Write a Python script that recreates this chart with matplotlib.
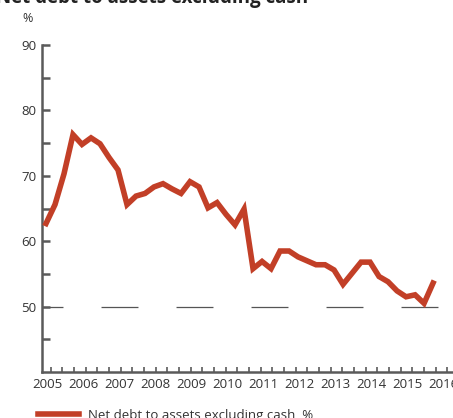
import matplotlib
matplotlib.use("Agg")
import matplotlib.pyplot as plt
import numpy as np

# quarterly observations, 2005Q1 .. 2015Q4
start_year = 2005
net_debt = [62.7, 65.6, 70.3, 76.3, 74.8, 75.8, 74.9, 72.8, 70.9, 65.6,
            66.9, 67.3, 68.3, 68.8, 68.0, 67.3, 69.1, 68.3, 65.1, 65.9,
            64.1, 62.5, 64.9, 55.8, 56.9, 55.8, 58.5, 58.5, 57.6, 57.0,
            56.4, 56.4, 55.6, 53.4, 55.1, 56.8, 56.8, 54.6, 53.8, 52.4,
            51.5, 51.8, 50.5, 53.6]
years = list(range(2005, 2017))
y_major = [50, 60, 70, 80, 90]
series_label = "Net debt to assets excluding cash, %"
title = "Net debt to assets excluding cash"

plt.rcParams['font.family'] = ['Open Sans', 'DejaVu Sans']
plt.rcParams['lines.scale_dashes'] = False

red = '#c23f27'
axis_col = '#5a5a5a'
text_col = '#333333'

W, H = 453, 418
fig = plt.figure(figsize=(W / 100, H / 100), dpi=100)
ax = fig.add_axes([42 / W, (H - 372) / H, (W - 42) / W + 0.02, (372 - 45) / H])

x = start_year + np.arange(len(net_debt)) / 4
ax.plot(x, net_debt, color=red, lw=4.0, solid_joinstyle='miter', zorder=3)

ax.axhline(50, color='#555555', lw=0.9, linestyle=(11.5, (26.6, 27.4)), zorder=1)

ax.set_ylim(40, 90)
ax.set_xlim(2005 - 4 / 36, 2005 + (W + 9 - 46) / 36)

for s in ['top', 'right']:
    ax.spines[s].set_visible(False)
for s in ['left', 'bottom']:
    ax.spines[s].set_color(axis_col)
    ax.spines[s].set_linewidth(1.8)

ax.set_yticks(y_major)
ax.set_yticks([45, 55, 65, 75, 85], minor=True)
ax.tick_params(axis='y', which='both', direction='in', length=5.8, width=1.8,
               color=axis_col, labelsize=9.5, labelcolor=text_col, pad=4)

ax.set_xticks([y + 0.05 for y in years])
ax.set_xticklabels([str(y) for y in years])
ax.set_xticks(np.arange(2005.13, 2016.5, 0.324), minor=True)
ax.tick_params(axis='x', which='major', length=0, labelsize=9.5,
               labelcolor=text_col, pad=4)
ax.tick_params(axis='x', which='minor', direction='in', length=3.8, width=1.2,
               color=axis_col)

fig.text(22 / W, 1 - 18 / H, '%', fontsize=9, color=text_col, va='center')
fig.text(-4 / W, 1 - 3 / H, title, fontsize=13.5, fontweight='bold',
         color='#222222', va='baseline')

fig.add_artist(plt.Line2D([38 / W, 79 / W], [1 - 413.5 / H, 1 - 413.5 / H],
                          color=red, lw=4.0, transform=fig.transFigure))
fig.text(88 / W, 1 - 419 / H, series_label, fontsize=9.5, color=text_col,
         va='baseline')

fig.savefig('out.png', dpi=100)
